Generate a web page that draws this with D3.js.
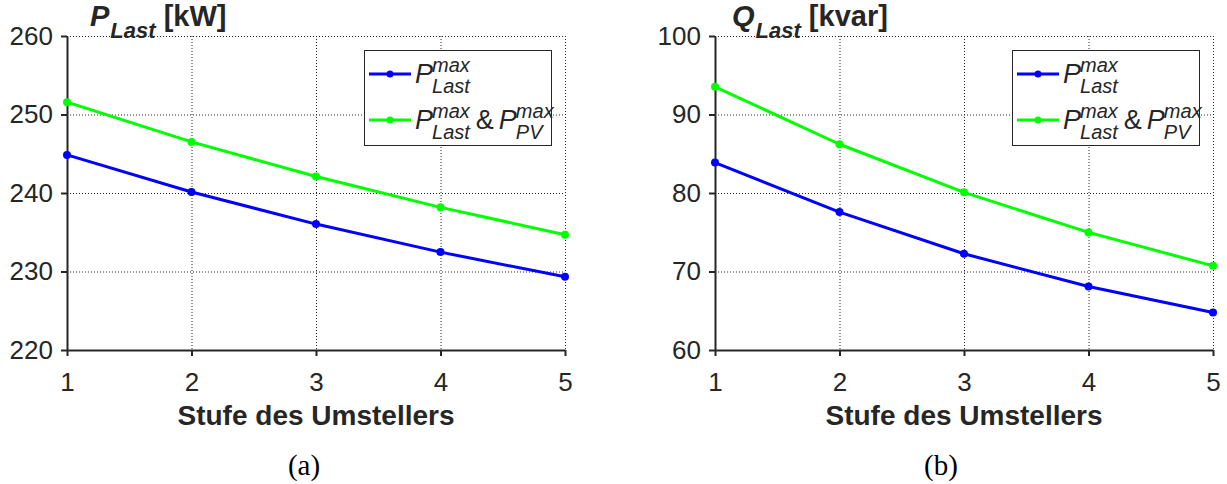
<!DOCTYPE html>
<html>
<head>
<meta charset="utf-8">
<script src="https://cdn.jsdelivr.net/npm/d3@7"></script>
<style>
  html, body { margin: 0; padding: 0; background: #fff; }
  svg { display: block; }
  text { font-family: "Liberation Sans", Arial, Helvetica, sans-serif; fill: #262626; }
</style>
</head>
<body>
<script>
// Tap-changer steps
const steps = [1, 2, 3, 4, 5];
const xTicks = [1, 2, 3, 4, 5];

// Active power of the load [kW]
const pLastMax = [244.85, 240.13, 236.04, 232.47, 229.32];
const pLastPvMax = [251.57, 246.51, 242.1, 238.17, 234.68];
const pTicks = [220, 230, 240, 250, 260];

// Reactive power of the load [kvar]
const qLastMax = [83.87, 77.57, 72.26, 68.09, 64.77];
const qLastPvMax = [93.53, 86.21, 80.08, 74.98, 70.72];
const qTicks = [60, 70, 80, 90, 100];

const xLabel = "Stufe des Umstellers";

const W = 1227, H = 484;
const svg = d3.select("body").append("svg").attr("width", W).attr("height", H);
svg.append("rect").attr("width", W).attr("height", H).attr("fill", "#fff");

const TXT = "#262626";
const BLUE = "#0000ff";
const GREEN = "#00ff00";

function drawPanel(opt) {
  const left = opt.left, right = opt.left + 498, top = 36, bottom = 350;
  const x = d3.scaleLinear().domain([1, 5]).range([left, right]);
  const y = d3.scaleLinear().domain(opt.yDomain).range([bottom, top]);
  const g = svg.append("g");

  // dotted grid
  g.append("g").selectAll("line.gx").data(xTicks.slice(1)).join("line")
    .attr("x1", d => x(d) + 0.5).attr("x2", d => x(d) + 0.5).attr("y1", top).attr("y2", bottom)
    .attr("stroke", "#262626").attr("stroke-width", 1).attr("stroke-dasharray", "1,2");
  g.append("g").selectAll("line.gy").data(opt.yTicks.slice(1)).join("line")
    .attr("x1", left).attr("x2", right).attr("y1", d => y(d) + 0.5).attr("y2", d => y(d) + 0.5)
    .attr("stroke", "#262626").attr("stroke-width", 1).attr("stroke-dasharray", "1,2");

  // axes
  const xAxis = d3.axisBottom(x).tickValues(xTicks).tickFormat(d3.format("d"))
    .tickSizeInner(6).tickSizeOuter(0).tickPadding(17);
  const yAxis = d3.axisLeft(y).tickValues(opt.yTicks).tickFormat(d3.format("d"))
    .tickSizeInner(6).tickSizeOuter(0).tickPadding(8);

  const ax = g.append("g").attr("transform", `translate(0,${bottom})`).call(xAxis);
  const ay = g.append("g").attr("transform", `translate(${left},0)`).call(yAxis);
  [ax, ay].forEach(a => {
    a.select(".domain").attr("stroke", TXT).attr("stroke-width", 2);
    a.selectAll(".tick line").attr("stroke", TXT).attr("stroke-width", 2);
    a.selectAll(".tick text").attr("fill", TXT).style("font-size", "26px")
      .style("font-family", "'Liberation Sans', Arial, sans-serif");
  });

  // series
  const line = d3.line().x((d, i) => x(steps[i])).y(d => y(d));
  opt.series.forEach(s => {
    g.append("path").datum(s.values).attr("d", line)
      .attr("fill", "none").attr("stroke", s.color).attr("stroke-width", 3)
      .attr("stroke-linejoin", "round");
    g.append("g").selectAll("circle").data(s.values).join("circle")
      .attr("cx", (d, i) => x(steps[i])).attr("cy", d => y(d)).attr("r", 4)
      .attr("fill", s.color);
  });

  // x label
  g.append("text").attr("x", (left + right) / 2).attr("y", 425)
    .attr("text-anchor", "middle").style("font-size", "28px").style("font-weight", "bold")
    .text(xLabel);

  // title with subscript
  const t = g.append("text").attr("x", opt.titleX).attr("y", 26)
    .style("font-size", "29px").style("font-weight", "bold");
  t.append("tspan").style("font-style", "italic").text(opt.titleSym);
  t.append("tspan").style("font-style", "italic").style("font-size", "22px")
    .attr("dx", 1).attr("dy", 12).text("Last");
  t.append("tspan").attr("dy", -12).text(" " + opt.titleUnit);

  // legend
  const lx = right - 201, ly = 50;
  g.append("rect").attr("x", lx + 0.5).attr("y", ly + 0.5).attr("width", 187).attr("height", 95)
    .attr("fill", "#fff").attr("stroke", TXT).attr("stroke-width", 1);

  const rows = [
    { color: BLUE, y: 74, parts: [["P", "max", "Last"]] },
    { color: GREEN, y: 120, parts: [["P", "max", "Last"], "&", ["P", "max", "PV"]] }
  ];
  rows.forEach(r => {
    g.append("line").attr("x1", lx + 5).attr("x2", lx + 47).attr("y1", r.y).attr("y2", r.y)
      .attr("stroke", r.color).attr("stroke-width", 3);
    g.append("circle").attr("cx", lx + 26).attr("cy", r.y).attr("r", 3.5).attr("fill", r.color);
    let cx = lx + 51;
    const base = r.y + 9;
    r.parts.forEach(p => {
      if (typeof p === "string") {
        const tt = g.append("text").attr("x", cx + 6).attr("y", base)
          .style("font-size", "27px").text(p);
        cx += 6 + tt.node().getComputedTextLength() + 5;
        return;
      }
      const main = g.append("text").attr("x", cx).attr("y", base)
        .style("font-size", "27px").style("font-style", "italic").text(p[0]);
      const mw = main.node().getComputedTextLength();
      const sup = g.append("text").attr("x", cx + mw - 1).attr("y", base - 11)
        .style("font-size", "20px").style("font-style", "italic").text(p[1]);
      const sub = g.append("text").attr("x", cx + mw - 1).attr("y", base + 10)
        .style("font-size", "20px").style("font-style", "italic").text(p[2]);
      cx += mw - 1 + Math.max(sup.node().getComputedTextLength(), sub.node().getComputedTextLength());
    });
  });

  // caption
  g.append("text").attr("x", opt.captionX).attr("y", 475).attr("text-anchor", "middle")
    .style("font-family", "'Liberation Serif', 'Times New Roman', serif").style("font-size", "29px")
    .style("fill", "#000").text(opt.caption);
}

drawPanel({
  left: 67, yDomain: [220, 260], yTicks: pTicks,
  series: [{ values: pLastMax, color: BLUE }, { values: pLastPvMax, color: GREEN }],
  titleX: 90, titleSym: "P", titleUnit: "[kW]", caption: "(a)", captionX: 304
});
drawPanel({
  left: 715, yDomain: [60, 100], yTicks: qTicks,
  series: [{ values: qLastMax, color: BLUE }, { values: qLastPvMax, color: GREEN }],
  titleX: 732, titleSym: "Q", titleUnit: "[kvar]", caption: "(b)", captionX: 941
});
</script>
</body>
</html>
